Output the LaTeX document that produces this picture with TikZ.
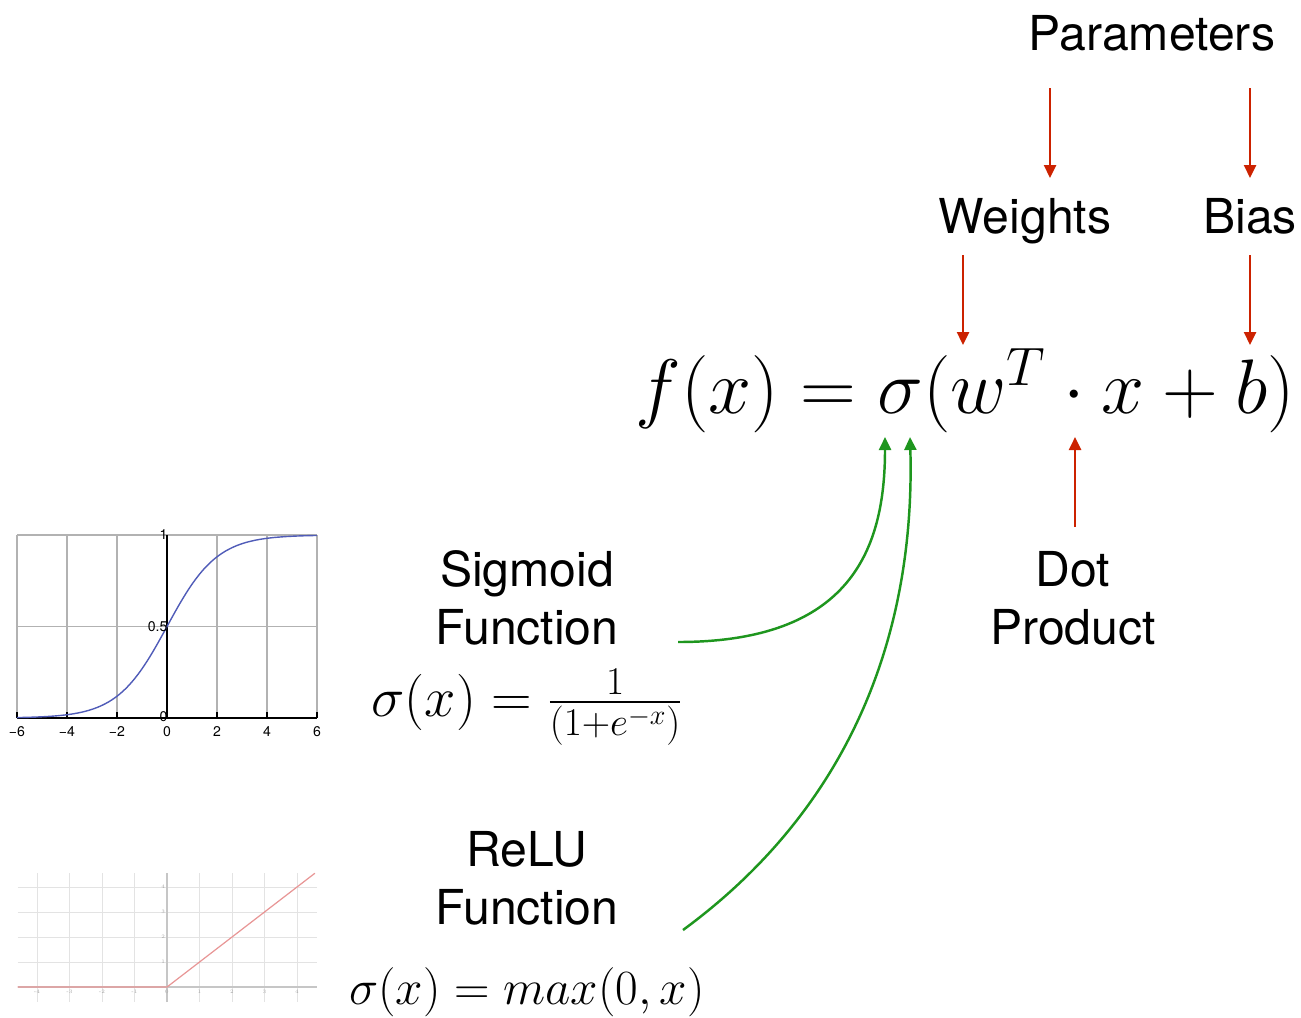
\RequirePackage{fix-cm}
\documentclass[tikz,border=0pt]{standalone}
\usepackage{amsmath}
\usepackage{fontspec}
\newfontfamily\labelfont{TeX Gyre Heros}
\usetikzlibrary{arrows.meta}
\definecolor{arrowred}{RGB}{204,34,0}
\definecolor{arrowgreen}{RGB}{30,150,30}
\definecolor{sigblue}{RGB}{80,92,184}
\definecolor{relured}{RGB}{232,150,150}
\tikzset{
  redarrow/.style={-{Triangle[length=0.26cm, width=0.24cm]}, line width=1.4pt, draw=arrowred},
  greenarrow/.style={-{Triangle[length=0.26cm, width=0.24cm]}, line width=1.4pt, draw=arrowgreen},
  wordlabel/.style={font=\labelfont\fontsize{27.4}{33}\selectfont, align=center, inner sep=0pt},
  bigmath/.style={font=\fontsize{44}{50}\selectfont, inner sep=0pt},
  sigmath/.style={font=\fontsize{32}{38}\selectfont, inner sep=0pt},
  relumath/.style={font=\fontsize{28}{34}\selectfont, inner sep=0pt},
  gridline/.style={draw=gray!60, line width=0.6pt},
  lightgrid/.style={draw=gray!22, line width=0.5pt},
  ticklabel/.style={font=\labelfont\fontsize{8}{9}\selectfont, inner sep=1pt},
  tinylabel/.style={font=\fontsize{3}{3}\selectfont, text=gray!70, inner sep=1pt}
}

\begin{document}
\begin{tikzpicture}
  \useasboundingbox (0,0) rectangle (26.02,-20.34);

  % labels
  \node[wordlabel, anchor=base] (params) at (23.04,-1.0) {Parameters};
  \node[wordlabel, anchor=base] (weights) at (20.5,-4.66) {Weights};
  \node[wordlabel, anchor=base] (bias) at (25.0,-4.66) {Bias};
  \node[wordlabel] (dotprod) at (21.46,-11.96) {Dot\\Product};
  \node[wordlabel] (sigfun) at (10.54,-11.96) {Sigmoid\\Function};
  \node[wordlabel] (relufun) at (10.54,-17.56) {ReLU\\Function};

  % formulas
  \node[bigmath] (neuron) at (19.3,-7.82) {$f(x) = \sigma(w^T \cdot x + b)$};
  \node[sigmath] (sigform) at (10.54,-14.14) {$\sigma(x) = \frac{1}{(1+e^{-x})}$};
  \node[relumath] (reluform) at (10.54,-19.84) {$\sigma(x) = max(0,x)$};

  % arrow ends
  \coordinate (pwtop) at (21.0,-1.76);
  \coordinate (pwend) at (21.0,-3.56);
  \coordinate (pbtop) at (25.0,-1.76);
  \coordinate (pbend) at (25.0,-3.56);
  \coordinate (wtop) at (19.26,-5.1);
  \coordinate (wend) at (19.26,-6.9);
  \coordinate (btop) at (25.0,-5.1);
  \coordinate (bend) at (25.0,-6.9);
  \coordinate (dotstart) at (21.5,-10.54);
  \coordinate (dotend) at (21.5,-8.74);
  \coordinate (sigstart) at (13.56,-12.84);
  \coordinate (sigend) at (17.7,-8.74);
  \coordinate (relustart) at (13.66,-18.6);
  \coordinate (reluend) at (18.2,-8.74);

  \draw[redarrow] (pwtop) -- (pwend);
  \draw[redarrow] (pbtop) -- (pbend);
  \draw[redarrow] (wtop) -- (wend);
  \draw[redarrow] (btop) -- (bend);
  \draw[redarrow] (dotstart) -- (dotend);
  \draw[greenarrow] (sigstart) .. controls (17.0,-12.84) and (17.7,-11.0) .. (sigend);
  \draw[greenarrow] (relustart) .. controls (17.2,-16.0) and (18.3,-12.4) .. (reluend);

  % sigmoid plot
  \begin{scope}[shift={(3.34,-14.36)}, xscale=0.5, yscale=3.66]
    \foreach \x in {-6,-4,...,6}
      \draw[gridline] (\x,0) -- (\x,1);
    \foreach \y in {0.5,1}
      \draw[gridline] (-6,\y) -- (6,\y);
    \draw[black, line width=0.7pt] (-6,0) -- (6,0);
    \draw[black, line width=0.7pt] (0,0) -- (0,1);
    \foreach \x in {-6,-4,...,6}
      \draw[black, line width=0.6pt] (\x,0) -- (\x,0.035);
    \draw[sigblue, line width=0.8pt, smooth, samples=80, domain=-6:6] plot (\x,{1/(1+exp(-\x))});
    \foreach \x/\t [count=\i] in {-6/−6,-4/−4,-2/−2,0/0,2/2,4/4,6/6}
      \node[ticklabel, anchor=north] (sx\i) at (\x,-0.035) {\t};
    \node[ticklabel, anchor=east] (sy1) at (0.1,0.01) {0};
    \node[ticklabel, anchor=east] (sy2) at (0.1,0.5) {0.5};
    \node[ticklabel, anchor=east] (sy3) at (0.1,1) {1};
  \end{scope}

  % relu plot
  \begin{scope}[shift={(3.34,-19.74)}, xscale=0.65, yscale=0.5]
    \foreach \x in {-4,...,4}
      \draw[lightgrid] (\x,-0.6) -- (\x,4.56);
    \foreach \y in {1,...,4}
      \draw[lightgrid] (-4.6,\y) -- (4.6,\y);
    \draw[gray!45, line width=0.6pt] (-4.6,0) -- (4.6,0);
    \draw[gray!45, line width=0.6pt] (0,-0.6) -- (0,4.56);
    \draw[relured, line width=0.7pt] (-4.6,0) -- (0,0) -- (4.55,4.55);
    \foreach \x [count=\i] in {-4,...,4}
      \node[tinylabel, anchor=north] (rx\i) at (\x,-0.05) {\x};
    \foreach \y [count=\i] in {1,...,4}
      \node[tinylabel, anchor=east] (ry\i) at (0,\y) {\y};
  \end{scope}
\end{tikzpicture}
\end{document}
